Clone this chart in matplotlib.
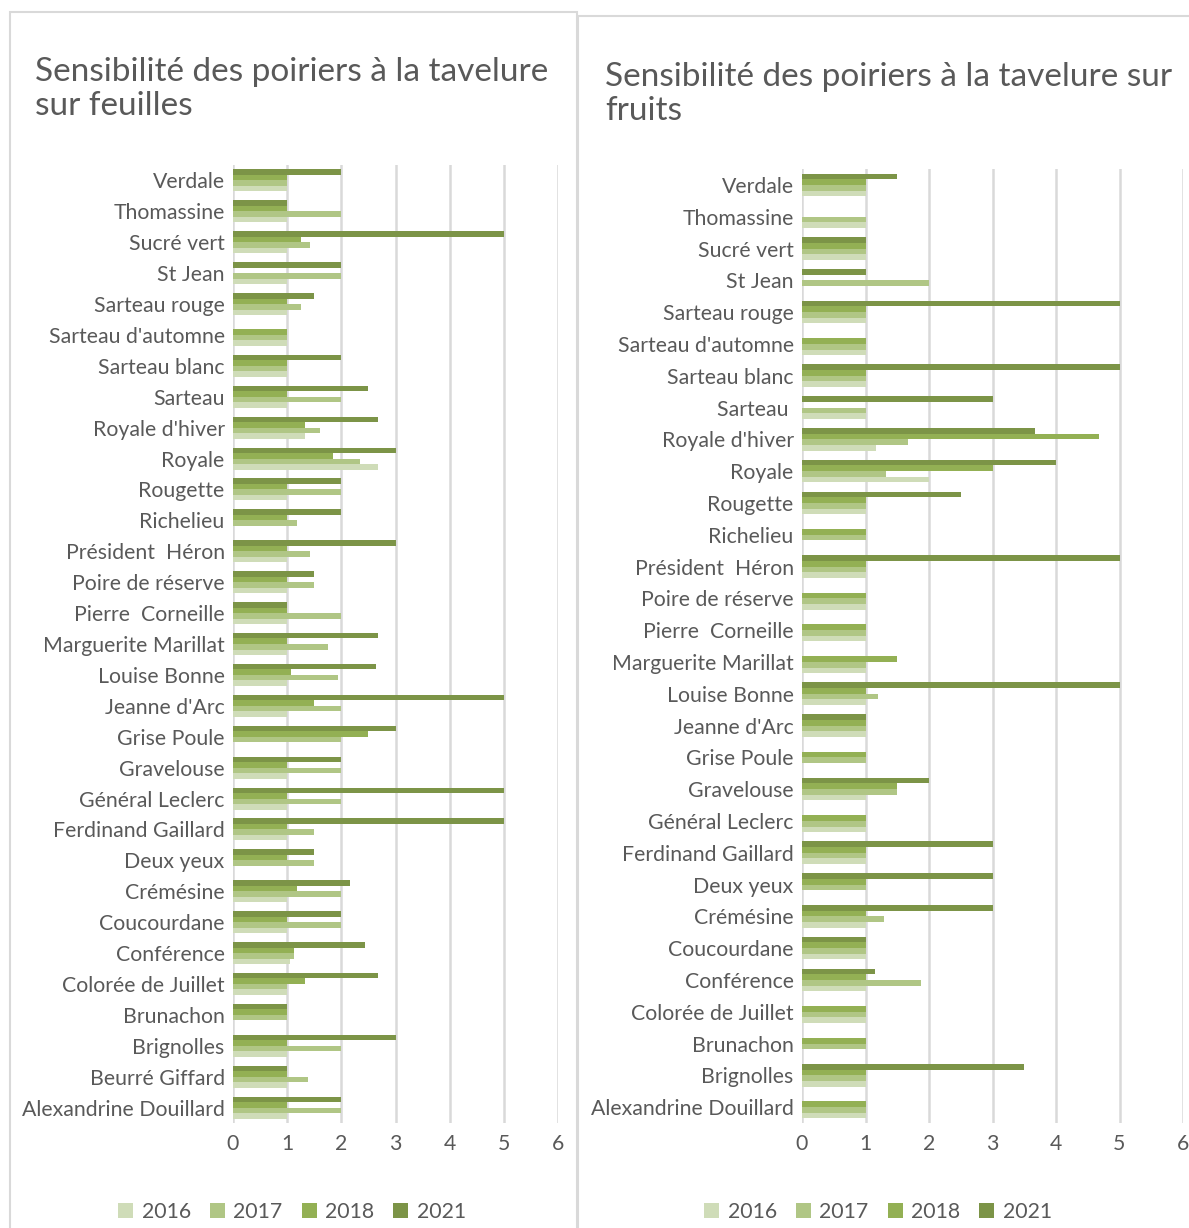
import numpy as np
import matplotlib
matplotlib.use('Agg')
import matplotlib.pyplot as plt
from matplotlib.patches import Rectangle

plt.rcParams['font.family'] = ['Lato', 'DejaVu Sans']

# ---- données : feuilles (de haut en bas, comme affiché) ----
cat_feuilles = ['Verdale', 'Thomassine', 'Sucré vert', 'St Jean', 'Sarteau rouge',
                "Sarteau d'automne", 'Sarteau blanc', 'Sarteau', "Royale d'hiver", 'Royale',
                'Rougette', 'Richelieu', 'Président  Héron', 'Poire de réserve',
                'Pierre  Corneille', 'Marguerite Marillat', 'Louise Bonne', "Jeanne d'Arc",
                'Grise Poule', 'Gravelouse', 'Général Leclerc', 'Ferdinand Gaillard',
                'Deux yeux', 'Crémésine', 'Coucourdane', 'Conférence', 'Colorée de Juillet',
                'Brunachon', 'Brignolles', 'Beurré Giffard', 'Alexandrine Douillard']
f_2016 = [1, 1, 1, 1, 1, 1, 1, 1, 1.33, 2.67, 1, 0, 1, 1, 1, 1, 1, 1, 0, 1, 1, 1,
          0, 1, 1, 1.05, 1, 0, 1, 1, 1]
f_2017 = [1, 2, 1.42, 2, 1.25, 1, 1, 2, 1.6, 2.34, 2, 1.18, 1.42, 1.5, 2, 1.75, 1.94, 2,
          2, 2, 2, 1.5, 1.5, 2, 2, 1.13, 1, 1, 2, 1.38, 2]
f_2018 = [1, 1, 1.25, 0, 1, 1, 1, 1, 1.33, 1.85, 1, 1, 1, 1, 1, 1, 1.07, 1.5, 2.5, 1, 1,
          1, 1, 1.18, 1, 1.13, 1.33, 1, 1, 1, 1]
f_2021 = [2, 1, 5, 2, 1.5, 0, 2, 2.5, 2.67, 3, 2, 2, 3, 1.5, 1, 2.67, 2.64, 5, 3, 2, 5,
          5, 1.5, 2.16, 2, 2.44, 2.67, 1, 3, 1, 2]

# ---- données : fruits ----
cat_fruits = ['Verdale', 'Thomassine', 'Sucré vert', 'St Jean', 'Sarteau rouge',
              "Sarteau d'automne", 'Sarteau blanc', 'Sarteau ', "Royale d'hiver", 'Royale',
              'Rougette', 'Richelieu', 'Président  Héron', 'Poire de réserve',
              'Pierre  Corneille', 'Marguerite Marillat', 'Louise Bonne', "Jeanne d'Arc",
              'Grise Poule', 'Gravelouse', 'Général Leclerc', 'Ferdinand Gaillard',
              'Deux yeux', 'Crémésine', 'Coucourdane', 'Conférence', 'Colorée de Juillet',
              'Brunachon', 'Brignolles', 'Alexandrine Douillard']
r_2016 = [1, 1, 1, 0, 1, 1, 1, 1, 1.16, 2, 1, 0, 1, 1, 1, 1, 1, 1, 0, 1, 1, 1, 0, 1, 1,
          1, 1, 0, 1, 1]
r_2017 = [1, 1, 1, 2, 1, 1, 1, 1, 1.67, 1.33, 1, 1, 1, 1, 1, 1, 1.2, 1, 1, 1.5, 1, 1, 1,
          1.29, 1, 1.87, 1, 1, 1, 1]
r_2018 = [1, 0, 1, 0, 1, 1, 1, 0, 4.67, 3, 1, 1, 1, 1, 1, 1.5, 1, 1, 1, 1.5, 1, 1, 1, 1,
          1, 1, 1, 1, 1, 1]
r_2021 = [1.5, 0, 1, 1, 5, 0, 5, 3, 3.67, 4, 2.5, 0, 5, 0, 0, 0, 5, 1, 0, 2, 0, 3, 3, 3,
          1, 1.15, 0, 0, 3.5, 0]

annees = ['2016', '2017', '2018', '2021']
couleurs = ['#cfdcb8', '#b0c685', '#93b054', '#7c9447']
gris = '#595959'

fig = plt.figure(figsize=(11.89, 12.28), dpi=100)
W, H = 1189, 1228

# cadres des deux graphiques
fig.patches.append(Rectangle((10 / W, -0.01), 567 / W, 1 - 12 / H + 0.01, transform=fig.transFigure,
                             fill=False, edgecolor='#d9d9d9', linewidth=1.5))
fig.patches.append(Rectangle((578 / W, -0.01), 620 / W, 1 - 16 / H + 0.01, transform=fig.transFigure,
                             fill=False, edgecolor='#d9d9d9', linewidth=1.5))


def dessiner(ax, cats, series, titre, tx, ty, lx):
    n = len(cats)
    y = np.arange(n)
    h = 0.178
    offs = [1.5 * h, 0.5 * h, -0.5 * h, -1.5 * h]
    handles = []
    for vals, c, o, lab in zip(series, couleurs, offs, annees):
        b = ax.barh(y + o, vals, height=h, color=c, label=lab, zorder=3)
        handles.append(b)
    ax.set_ylim(n - 0.5, -0.5)
    ax.set_xlim(0, 6)
    ax.set_xticks(range(7))
    ax.set_yticks(y)
    ax.set_yticklabels(cats)
    ax.tick_params(axis='both', length=0, labelsize=15.3, colors=gris)
    ax.tick_params(axis='y', pad=6)
    ax.tick_params(axis='x', pad=8)
    ax.grid(axis='x', color='#d9d9d9', linewidth=1.8, zorder=0)
    for s in ax.spines.values():
        s.set_visible(False)
    fig.text(tx / W, 1 - ty / H, titre, fontsize=24, color=gris, ha='left', va='top',
             linespacing=1.18)
    fig.legend(handles=handles, labels=annees, loc='center', ncol=4,
               bbox_to_anchor=(lx / W, 1 - 1212 / H), frameon=False, fontsize=15.3,
               labelcolor=gris, handlelength=0.7, handleheight=0.7, handletextpad=0.4,
               columnspacing=0.9)


ax1 = fig.add_axes([233 / W, 1 - 1123 / H, 325 / W, 958 / H])
dessiner(ax1, cat_feuilles, [f_2016, f_2017, f_2018, f_2021],
         'Sensibilité des poiriers à la tavelure\nsur feuilles', 35, 57, 292)

ax2 = fig.add_axes([802 / W, 1 - 1123 / H, 381 / W, 954 / H])
dessiner(ax2, cat_fruits, [r_2016, r_2017, r_2018, r_2021],
         'Sensibilité des poiriers à la tavelure sur\nfruits', 605, 62, 878)

plt.savefig('out.png', dpi=100)
